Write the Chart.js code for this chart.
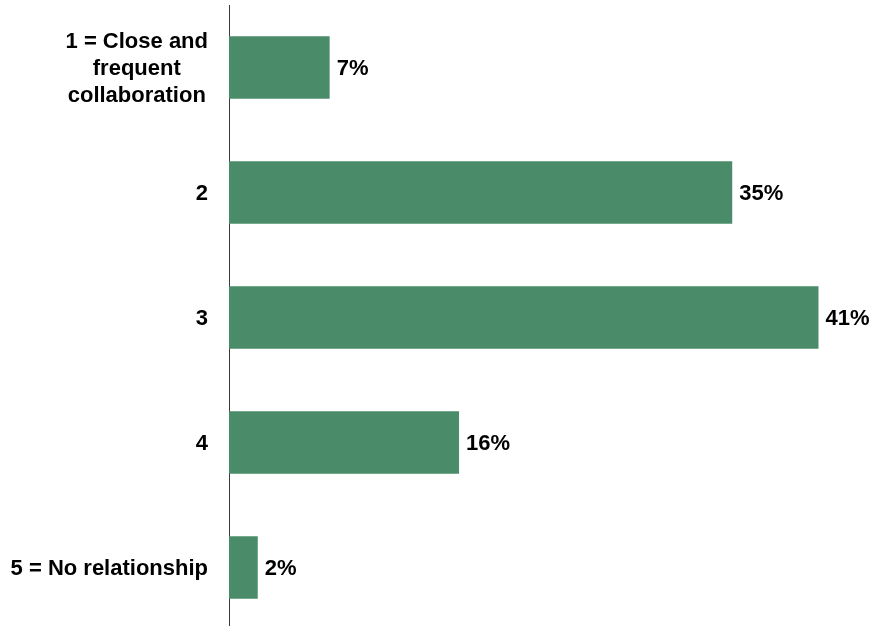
<!DOCTYPE html>
<html>
<head>
<meta charset="utf-8">
<script src="https://cdn.jsdelivr.net/npm/chart.js@4"></script>
<style>
  html, body { margin: 0; padding: 0; background: #fff; overflow: hidden; }
  canvas { display: block; }
</style>
</head>
<body>
<canvas id="collab-chart" width="876" height="630"></canvas>
<script>
// Survey answers, one bar per rating
const categories = [
  ['1 = Close and', 'frequent', 'collaboration'],
  ['2'],
  ['3'],
  ['4'],
  ['5 = No relationship']
];
const shares = [7, 35, 41, 16, 2]; // percent of respondents

const BAR_COLOR = '#4a8c6a';
const LABEL_FONT = 'bold 22px "Liberation Sans", Arial, sans-serif';
const LINE_HEIGHT = 27;
const AXIS_LEFT = 229;     // where the category axis line sits
const LABEL_RIGHT = 208;   // right edge of the category labels

// Category labels: single lines right aligned, wrapped ones centred as a block
const categoryLabelsPlugin = {
  id: 'categoryLabels',
  afterDraw(chart) {
    const { ctx, scales } = chart;
    const y = scales.y;
    ctx.save();
    ctx.font = LABEL_FONT;
    ctx.fillStyle = '#000';
    ctx.textBaseline = 'middle';
    categories.forEach((lines, i) => {
      const yc = y.getPixelForValue(i) + 1.5;
      if (lines.length === 1) {
        ctx.textAlign = 'right';
        ctx.fillText(lines[0], LABEL_RIGHT, yc);
        return;
      }
      const widest = Math.max(...lines.map(l => ctx.measureText(l).width));
      const xc = LABEL_RIGHT - widest / 2;
      ctx.textAlign = 'center';
      lines.forEach((line, j) => {
        const dy = (j - (lines.length - 1) / 2) * LINE_HEIGHT;
        ctx.fillText(line, xc, yc + dy);
      });
    });
    ctx.restore();
  }
};

// Percentage printed just past the end of every bar
const valueLabelsPlugin = {
  id: 'valueLabels',
  afterDatasetsDraw(chart) {
    const { ctx } = chart;
    const meta = chart.getDatasetMeta(0);
    ctx.save();
    ctx.font = LABEL_FONT;
    ctx.fillStyle = '#000';
    ctx.textAlign = 'left';
    ctx.textBaseline = 'middle';
    meta.data.forEach((bar, i) => {
      ctx.fillText(shares[i] + '%', bar.x + 7, bar.y + 1.5);
    });
    ctx.restore();
  }
};

new Chart(document.getElementById('collab-chart'), {
  type: 'bar',
  data: {
    labels: categories.map(l => l.join(' ')),
    datasets: [{
      data: shares,
      backgroundColor: BAR_COLOR,
      borderWidth: 0,
      barPercentage: 0.5,
      categoryPercentage: 1
    }]
  },
  options: {
    indexAxis: 'y',
    responsive: false,
    animation: false,
    layout: { padding: { top: 5, right: 0, bottom: 0, left: 0 } },
    scales: {
      x: {
        display: false,
        min: 0,
        max: 45
      },
      y: {
        grid: { display: false },
        border: { display: true, color: '#3a3a3a', width: 1 },
        ticks: { display: false },
        afterFit(scale) { scale.width = AXIS_LEFT; }
      }
    },
    plugins: {
      legend: { display: false },
      tooltip: { enabled: false }
    }
  },
  plugins: [categoryLabelsPlugin, valueLabelsPlugin]
});
</script>
</body>
</html>
